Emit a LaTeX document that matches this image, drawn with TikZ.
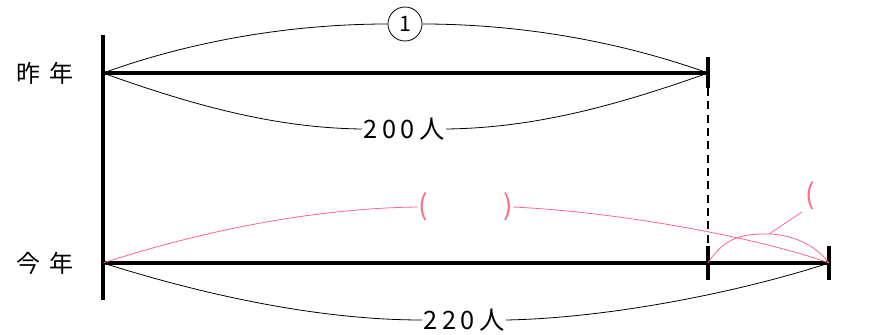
\documentclass[tikz,border=0pt]{standalone}
\usepackage{fontspec}
\setmainfont{Noto Sans CJK JP}
\definecolor{pk}{HTML}{FF6688}
\newcommand{\dgap}{\hspace{0.18em}}
\begin{document}
\begin{tikzpicture}[x=0.75pt,y=-0.75pt,
  thick line/.style={line width=2.3pt},
  thin line/.style={line width=0.6pt},
  pinkline/.style={line width=0.6pt,draw=pk},
  lbl/.style={inner sep=1pt,font=\fontsize{19}{19}\selectfont},
  yr/.style={inner sep=1pt,font=\fontsize{18}{18}\selectfont},
  par/.style={inner sep=0pt,text=pk,font=\fontsize{21}{21}\selectfont}]
\useasboundingbox (0,0) rectangle (889,335);
% coordinates
\coordinate (A0) at (103,73);
\coordinate (A1) at (708,73);
\coordinate (B0) at (103,263);
\coordinate (B1) at (708,263);
\coordinate (B2) at (829,263);
\coordinate (Vt) at (103,35);
\coordinate (Vb) at (103,300);
\coordinate (T1a) at (708,57);
\coordinate (T1b) at (708,88);
\coordinate (D1) at (708,250);
\coordinate (T2a) at (708,246);
\coordinate (T2b) at (708,280);
\coordinate (T3a) at (829,246);
\coordinate (T3b) at (829,280);
\coordinate (Lp1) at (769,234);
\coordinate (Lp2) at (802,212);
% labels
\node[yr] (ya) at (45,73) {昨\hspace{0.4em}年};
\node[yr] (yb) at (45,263) {今\hspace{0.4em}年};
\node[draw,circle,thin line,minimum size=34*0.75pt,inner sep=0pt,font=\fontsize{16}{16}\selectfont] (c1) at (405,24) {1};
\node[lbl] (l200) at (404,129) {2\dgap{}0\dgap{}0\dgap{}人};
\node[lbl] (l220) at (464,320) {2\dgap{}2\dgap{}0\dgap{}人};
\node[par] (lp) at (423,207) {(};
\node[par] (rp) at (508,207) {)};
\node[par] (sp) at (810,196) {(};
% main lines
\draw[thick line] (Vt) -- (Vb);
\draw[thick line] (A0) -- (A1);
\draw[thick line] (B0) -- (B2);
\draw[thick line] (T1a) -- (T1b);
\draw[thick line] (T2a) -- (T2b);
\draw[thick line] (T3a) -- (T3b);
\draw[line width=1.3pt,dash pattern=on 6pt off 4pt] (T1b) -- (D1);
% top arcs
\draw[thin line] (A0) .. controls (200,38) and (300,24) .. (c1.west);
\draw[thin line] (c1.east) .. controls (510,24) and (610,38) .. (A1);
\draw[thin line] (A0) .. controls (200,108) and (280,128) .. (l200.west);
\draw[thin line] (l200.east) .. controls (530,128) and (610,108) .. (A1);
% bottom arcs
\draw[pinkline] (B0) .. controls (220,225) and (330,208) .. (lp.west);
\draw[pinkline] (rp.east) .. controls (620,212) and (760,238) .. (B2);
\draw[thin line] (B0) .. controls (220,300) and (330,320) .. (l220.west);
\draw[thin line] (l220.east) .. controls (610,318) and (740,292) .. (B2);
\draw[pinkline] (B1) .. controls (725,236) and (745,234) .. (767,234) .. controls (790,234) and (815,244) .. (B2);
\draw[pinkline] (Lp1) -- (Lp2);
\end{tikzpicture}
\end{document}
